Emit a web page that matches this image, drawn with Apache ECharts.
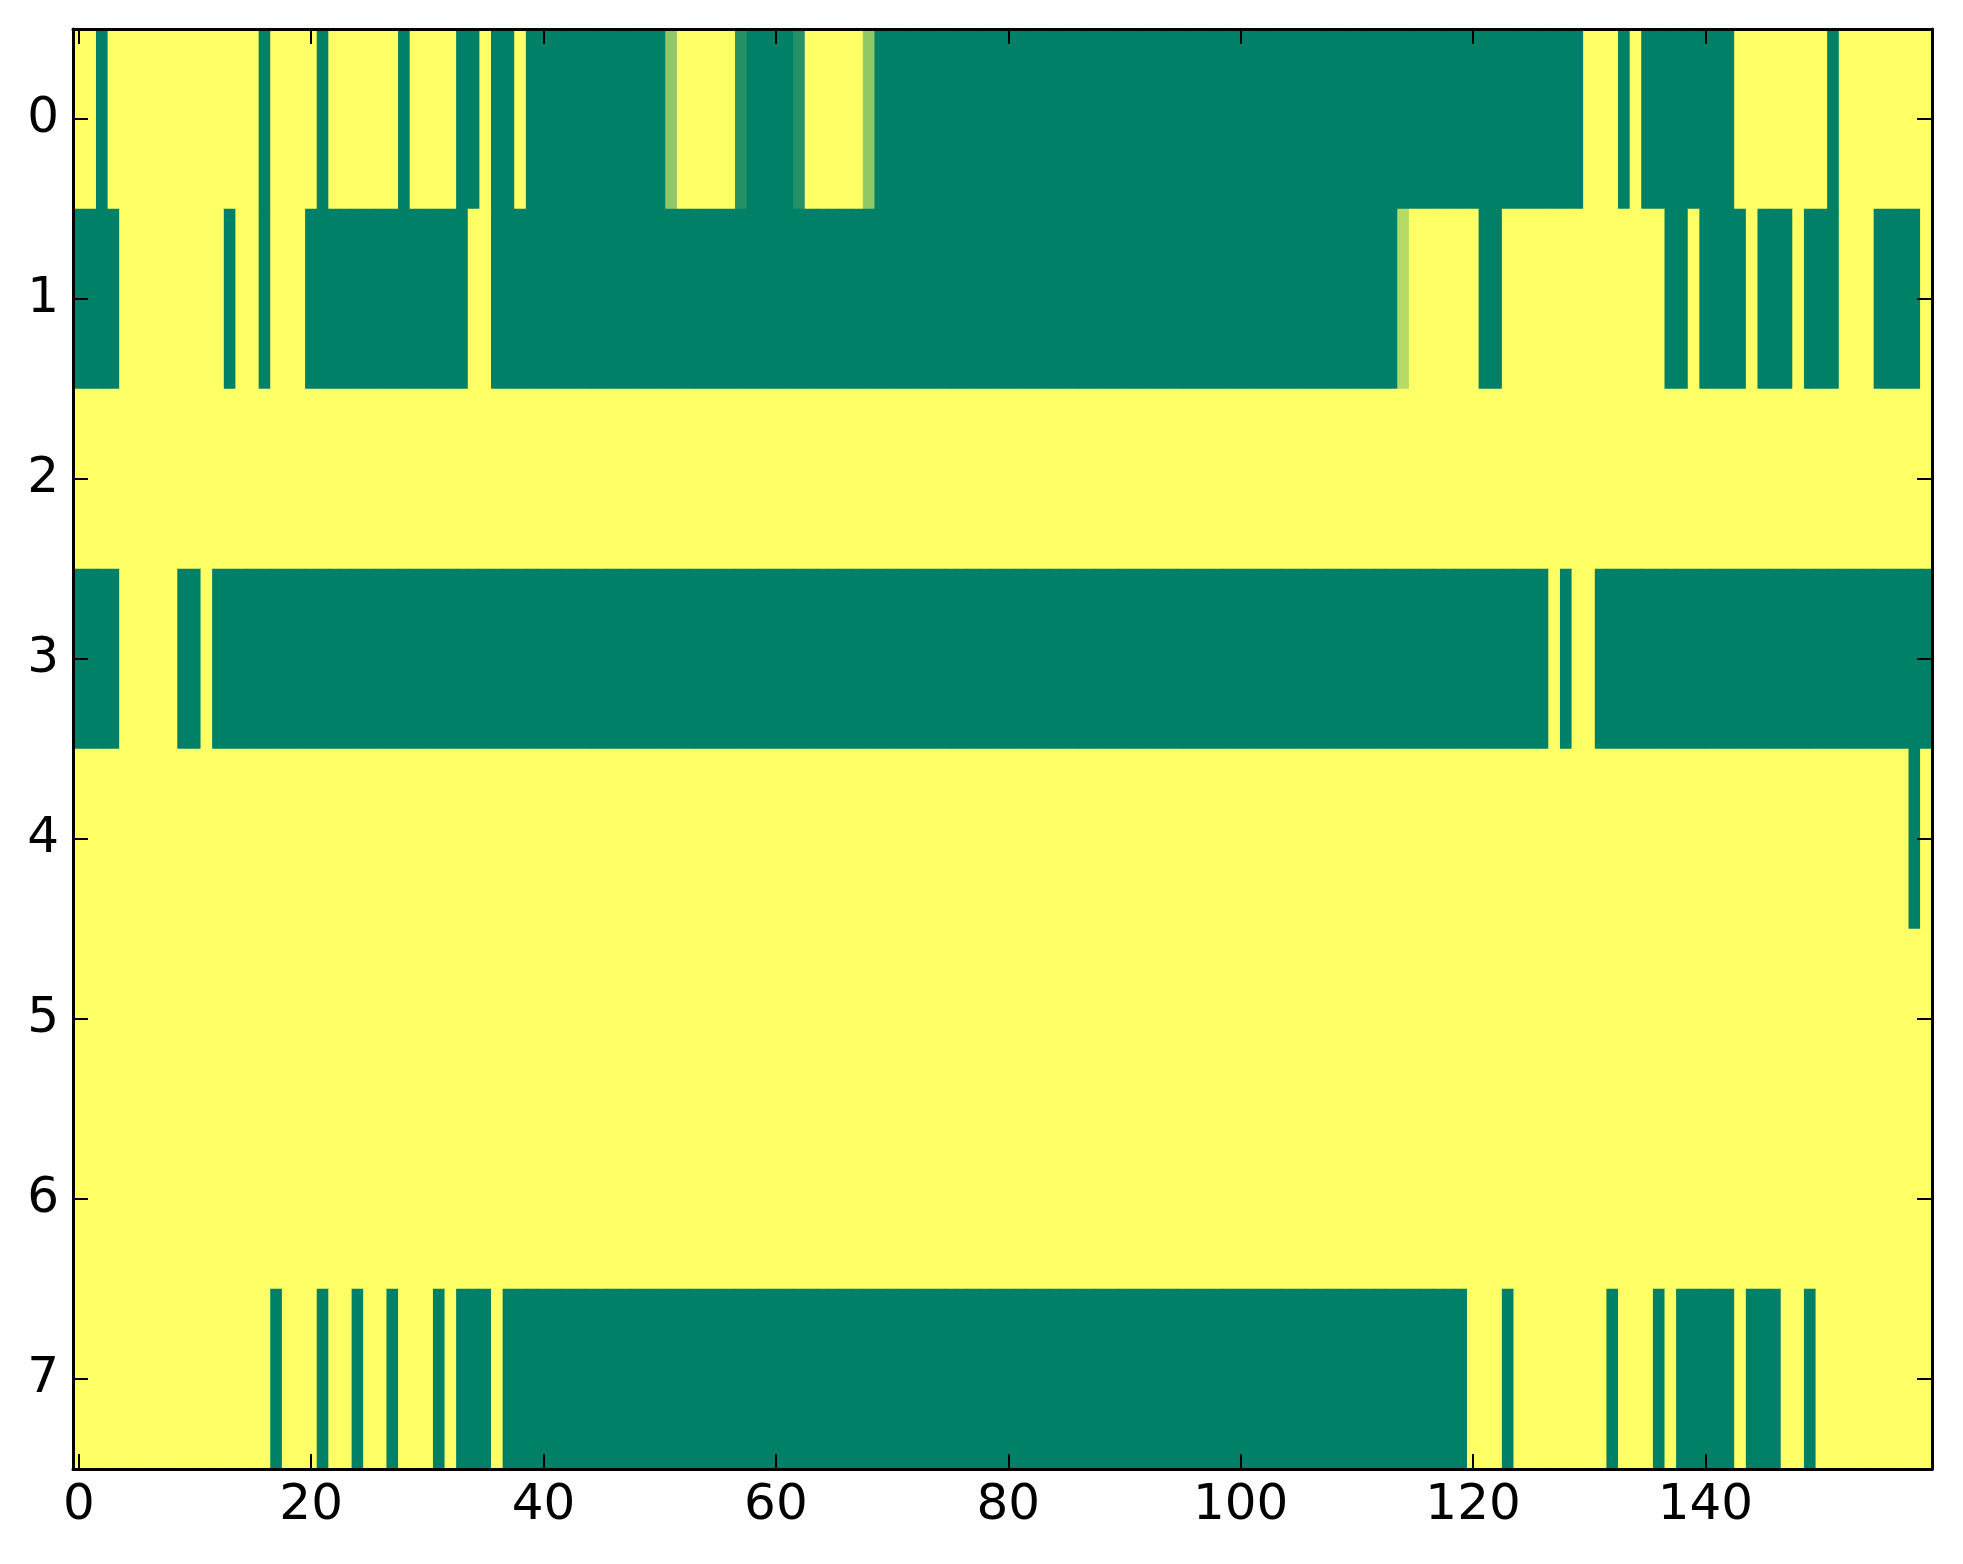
<!DOCTYPE html>
<html>
<head>
<meta charset="utf-8">
<script src="https://cdn.jsdelivr.net/npm/echarts@6/dist/echarts.min.js"></script>
<style>
html,body{margin:0;padding:0;background:#fff;}
#chart{width:1963px;height:1564px;}
</style>
</head>
<body>
<div id="chart"></div>
<script>
// Column categories 0..159 and row categories 0..7
var xCategories = [];
for (var i = 0; i < 160; i++) xCategories.push(String(i));
var yCategories = ['0','1','2','3','4','5','6','7'];

// Cell values (0 = green, 1 = yellow)
var row0 = [
1,1,0,1,1,1,1,1,1,1,
1,1,1,1,1,1,0,1,1,1,
1,0,1,1,1,1,1,1,0,1,
1,1,1,0,0,1,0,0,1,0,
0,0,0,0,0,0,0,0,0,0,
0,0.57,1,1,1,1,1,0.14,0,0,
0,0,0.14,1,1,1,1,1,0.57,0,
0,0,0,0,0,0,0,0,0,0,
0,0,0,0,0,0,0,0,0,0,
0,0,0,0,0,0,0,0,0,0,
0,0,0,0,0,0,0,0,0,0,
0,0,0,0,0,0,0,0,0,0,
0,0,0,0,0,0,0,0,0,0,
1,1,1,0,1,0,0,0,0,0,
0,0,0,1,1,1,1,1,1,1,
1,0,1,1,1,1,1,1,1,1
];
var row1 = [
0,0,0,0,1,1,1,1,1,1,
1,1,1,0,1,1,0,1,1,1,
0,0,0,0,0,0,0,0,0,0,
0,0,0,0,1,1,0,0,0,0,
0,0,0,0,0,0,0,0,0,0,
0,0,0,0,0,0,0,0,0,0,
0,0,0,0,0,0,0,0,0,0,
0,0,0,0,0,0,0,0,0,0,
0,0,0,0,0,0,0,0,0,0,
0,0,0,0,0,0,0,0,0,0,
0,0,0,0,0,0,0,0,0,0,
0,0,0,0,0.71,1,1,1,1,1,
1,0,0,1,1,1,1,1,1,1,
1,1,1,1,1,1,1,0,0,1,
0,0,0,0,1,0,0,0,1,0,
0,0,1,1,1,0,0,0,0,1
];
var row2 = [
1,1,1,1,1,1,1,1,1,1, 1,1,1,1,1,1,1,1,1,1,
1,1,1,1,1,1,1,1,1,1, 1,1,1,1,1,1,1,1,1,1,
1,1,1,1,1,1,1,1,1,1, 1,1,1,1,1,1,1,1,1,1,
1,1,1,1,1,1,1,1,1,1, 1,1,1,1,1,1,1,1,1,1,
1,1,1,1,1,1,1,1,1,1, 1,1,1,1,1,1,1,1,1,1,
1,1,1,1,1,1,1,1,1,1, 1,1,1,1,1,1,1,1,1,1,
1,1,1,1,1,1,1,1,1,1, 1,1,1,1,1,1,1,1,1,1,
1,1,1,1,1,1,1,1,1,1, 1,1,1,1,1,1,1,1,1,1
];
var row3 = [
0,0,0,0,1,1,1,1,1,0,
0,1,0,0,0,0,0,0,0,0,
0,0,0,0,0,0,0,0,0,0,
0,0,0,0,0,0,0,0,0,0,
0,0,0,0,0,0,0,0,0,0,
0,0,0,0,0,0,0,0,0,0,
0,0,0,0,0,0,0,0,0,0,
0,0,0,0,0,0,0,0,0,0,
0,0,0,0,0,0,0,0,0,0,
0,0,0,0,0,0,0,0,0,0,
0,0,0,0,0,0,0,0,0,0,
0,0,0,0,0,0,0,0,0,0,
0,0,0,0,0,0,0,1,0,1,
1,0,0,0,0,0,0,0,0,0,
0,0,0,0,0,0,0,0,0,0,
0,0,0,0,0,0,0,0,0,0
];
var row4 = [
1,1,1,1,1,1,1,1,1,1, 1,1,1,1,1,1,1,1,1,1,
1,1,1,1,1,1,1,1,1,1, 1,1,1,1,1,1,1,1,1,1,
1,1,1,1,1,1,1,1,1,1, 1,1,1,1,1,1,1,1,1,1,
1,1,1,1,1,1,1,1,1,1, 1,1,1,1,1,1,1,1,1,1,
1,1,1,1,1,1,1,1,1,1, 1,1,1,1,1,1,1,1,1,1,
1,1,1,1,1,1,1,1,1,1, 1,1,1,1,1,1,1,1,1,1,
1,1,1,1,1,1,1,1,1,1, 1,1,1,1,1,1,1,1,1,1,
1,1,1,1,1,1,1,1,1,1, 1,1,1,1,1,1,1,1,0,1
];
var row5 = [
1,1,1,1,1,1,1,1,1,1, 1,1,1,1,1,1,1,1,1,1,
1,1,1,1,1,1,1,1,1,1, 1,1,1,1,1,1,1,1,1,1,
1,1,1,1,1,1,1,1,1,1, 1,1,1,1,1,1,1,1,1,1,
1,1,1,1,1,1,1,1,1,1, 1,1,1,1,1,1,1,1,1,1,
1,1,1,1,1,1,1,1,1,1, 1,1,1,1,1,1,1,1,1,1,
1,1,1,1,1,1,1,1,1,1, 1,1,1,1,1,1,1,1,1,1,
1,1,1,1,1,1,1,1,1,1, 1,1,1,1,1,1,1,1,1,1,
1,1,1,1,1,1,1,1,1,1, 1,1,1,1,1,1,1,1,1,1
];
var row6 = [
1,1,1,1,1,1,1,1,1,1, 1,1,1,1,1,1,1,1,1,1,
1,1,1,1,1,1,1,1,1,1, 1,1,1,1,1,1,1,1,1,1,
1,1,1,1,1,1,1,1,1,1, 1,1,1,1,1,1,1,1,1,1,
1,1,1,1,1,1,1,1,1,1, 1,1,1,1,1,1,1,1,1,1,
1,1,1,1,1,1,1,1,1,1, 1,1,1,1,1,1,1,1,1,1,
1,1,1,1,1,1,1,1,1,1, 1,1,1,1,1,1,1,1,1,1,
1,1,1,1,1,1,1,1,1,1, 1,1,1,1,1,1,1,1,1,1,
1,1,1,1,1,1,1,1,1,1, 1,1,1,1,1,1,1,1,1,1
];
var row7 = [
1,1,1,1,1,1,1,1,1,1,
1,1,1,1,1,1,1,0,1,1,
1,0,1,1,0,1,1,0,1,1,
1,0,1,0,0,0,1,0,0,0,
0,0,0,0,0,0,0,0,0,0,
0,0,0,0,0,0,0,0,0,0,
0,0,0,0,0,0,0,0,0,0,
0,0,0,0,0,0,0,0,0,0,
0,0,0,0,0,0,0,0,0,0,
0,0,0,0,0,0,0,0,0,0,
0,0,0,0,0,0,0,0,0,0,
0,0,0,0,0,0,0,0,0,0,
1,1,1,0,1,1,1,1,1,1,
1,1,0,1,1,1,0,1,0,0,
0,0,0,1,0,0,0,1,1,0,
1,1,1,1,1,1,1,1,1,1
];
var rows = [row0, row1, row2, row3, row4, row5, row6, row7];

var cells = [];
for (var r = 0; r < rows.length; r++) {
  for (var c = 0; c < rows[r].length; c++) {
    cells.push([c, r, rows[r][c]]);
  }
}

var chart = echarts.init(document.getElementById('chart'), null, {renderer: 'canvas'});
var lab = {fontFamily: 'DejaVu Sans', fontSize: 50, color: '#000'};
var axLine = {show: true, onZero: false, lineStyle: {color: '#000', width: 3}};
var tick = {show: true, inside: true, length: 15, alignWithLabel: true, lineStyle: {color: '#000', width: 2}};

chart.setOption({
  animation: false,
  backgroundColor: '#fff',
  grid: {left: 73, right: 31, top: 29, bottom: 95, containLabel: false},
  xAxis: [{
    type: 'category', data: xCategories, position: 'bottom', z: 10,
    axisLine: axLine,
    axisTick: Object.assign({}, tick, {interval: 19}),
    axisLabel: Object.assign({}, lab, {interval: 19, margin: 12}),
    splitLine: {show: false}, splitArea: {show: false}
  }, {
    type: 'category', data: xCategories, position: 'top', z: 10,
    axisLine: axLine,
    axisTick: Object.assign({}, tick, {interval: 19}),
    axisLabel: {show: false},
    splitLine: {show: false}, splitArea: {show: false}
  }],
  yAxis: [{
    type: 'category', data: yCategories, inverse: true, position: 'left', z: 10,
    axisLine: axLine,
    axisTick: Object.assign({}, tick, {interval: 0}),
    axisLabel: Object.assign({}, lab, {interval: 0, margin: 14}),
    splitLine: {show: false}, splitArea: {show: false}
  }, {
    type: 'category', data: yCategories, inverse: true, position: 'right', z: 10,
    axisLine: axLine,
    axisTick: Object.assign({}, tick, {interval: 0}),
    axisLabel: {show: false},
    splitLine: {show: false}, splitArea: {show: false}
  }],
  visualMap: {
    type: 'continuous', show: false, min: 0, max: 1, dimension: 2,
    seriesIndex: [0, 1],
    inRange: {color: ['#008066', '#ffff66']}
  },
  series: [{
    type: 'heatmap', xAxisIndex: 0, yAxisIndex: 0, z: 2,
    data: cells, progressive: 0,
    itemStyle: {borderWidth: 0},
    emphasis: {disabled: true}
  }, {
    // same cells drawn a second time to hide antialiasing seams between cells
    type: 'heatmap', xAxisIndex: 0, yAxisIndex: 0, z: 3,
    data: cells, progressive: 0, silent: true,
    itemStyle: {borderWidth: 0},
    emphasis: {disabled: true}
  }]
});
</script>
</body>
</html>
